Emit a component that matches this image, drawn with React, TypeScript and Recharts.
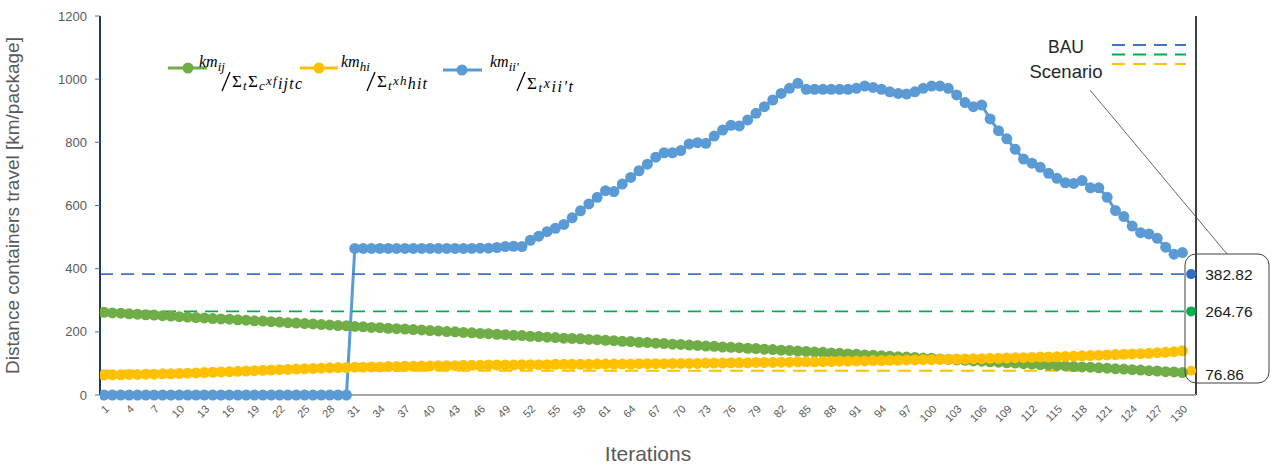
import { ComposedChart, Line, XAxis, YAxis, ReferenceLine, ReferenceDot, Legend } from "recharts";

// iterations 1..130
const iterations = Array.from({ length: 130 }, (_, i) => i + 1);

const xTicks = [1, 4, 7, 10, 13, 16, 19, 22, 25, 28, 31, 34, 37, 40, 43, 46, 49, 52, 55, 58, 61, 64, 67, 70, 73, 76, 79, 82, 85, 88, 91, 94, 97, 100, 103, 106, 109, 112, 115, 118, 121, 124, 127, 130];
const yTicks = [0, 200, 400, 600, 800, 1000, 1200];

// km_ij / sum xf
const greenValues = [
  262, 260, 259, 257, 256, 254, 253, 251, 250, 248,
  247, 245, 244, 242, 241, 240, 238, 237, 235, 234,
  232, 231, 229, 228, 226, 225, 223, 222, 220, 219,
  217, 216, 214, 213, 211, 210, 209, 207, 206, 204,
  203, 201, 200, 198, 197, 195, 194, 192, 191, 189,
  188, 186, 185, 183, 182, 180, 179, 178, 176, 175,
  173, 172, 170, 169, 167, 166, 164, 163, 161, 160,
  158, 157, 155, 154, 152, 151, 150, 148, 147, 145,
  144, 142, 141, 139, 138, 136, 135, 133, 132, 130,
  129, 127, 126, 124, 123, 121, 120, 119, 117, 116,
  114, 113, 111, 110, 108, 107, 105, 104, 102, 101,
  99, 98, 96, 95, 93, 92, 90, 89, 88, 86,
  85, 83, 82, 80, 79, 77, 76, 74, 73, 71,
];

// km_hi / sum xh
const orangeValues = [
  63, 64, 64, 65, 65, 66, 66, 67, 67, 68,
  69, 70, 71, 72, 73, 74, 75, 76, 77, 78,
  79, 80, 81, 82, 83, 84, 85, 86, 87, 87,
  88, 88, 89, 89, 90, 90, 91, 91, 92, 92,
  93, 93, 93, 94, 94, 94, 95, 95, 95, 95,
  96, 96, 96, 96, 97, 97, 97, 97, 97, 98,
  98, 98, 98, 98, 99, 99, 99, 99, 100, 100,
  100, 100, 101, 101, 101, 102, 102, 102, 103, 103,
  103, 104, 104, 105, 105, 105, 106, 106, 107, 107,
  108, 108, 109, 109, 110, 110, 111, 111, 112, 112,
  113, 113, 114, 114, 115, 115, 116, 116, 117, 118,
  118, 119, 120, 120, 121, 122, 123, 124, 125, 126,
  127, 128, 129, 130, 131, 132, 134, 135, 137, 140,
];

// km_ii' / sum x
const blueValues = [
  0, 0, 0, 0, 0, 0, 0, 0, 0, 0,
  0, 0, 0, 0, 0, 0, 0, 0, 0, 0,
  0, 0, 0, 0, 0, 0, 0, 0, 0, 0,
  464, 464, 464, 464, 464, 464, 464, 464, 464, 464,
  464, 464, 464, 464, 464, 465, 465, 467, 470, 471,
  470, 490, 503, 517, 528, 540, 561, 583, 605, 626,
  647, 644, 668, 689, 710, 731, 753, 767, 767, 774,
  795, 799, 797, 820, 839, 854, 852, 871, 892, 913,
  934, 955, 971, 987, 968, 968, 968, 968, 968, 968,
  971, 978, 974, 968, 960, 955, 953, 960, 971, 978,
  978, 971, 950, 926, 913, 918, 874, 837, 811, 778,
  747, 734, 721, 702, 686, 672, 670, 679, 656, 656,
  626, 584, 565, 535, 514, 510, 496, 468, 446, 451,
];

const bauLabels = ["382.82", "264.76", "76.86"];
const bauValues = [382.82, 264.76, 76.86];

const data = iterations.map((it, i) => ({
  it,
  green: greenValues[i],
  orange: orangeValues[i],
  blue: blueValues[i],
}));

const GREEN = "#70AD47";
const ORANGE = "#FFC000";
const BLUE = "#5B9BD5";
const bauColors = ["#4472C4", "#00B050", "#FFC000"];
const bauDotColors = ["#2E6FC4", "#00B050", "#FFC000"];

const sans = "'Liberation Sans', Arial, sans-serif";
const serif = "'Liberation Serif', 'Times New Roman', serif";

const XTick = ({ x, y, payload }: any) => (
  <g transform={`translate(${x + 3},${y + 4}) rotate(-45)`}>
    <text textAnchor="end" dy="0.35em" fontSize={11} fill="#595959" stroke="none" fontFamily={sans}>
      {payload.value}
    </text>
  </g>
);

// one legend entry: km over sum, as a slanted fraction
function Fraction({ x, sub, den, denX, denY, denW }: any) {
  return (
    <g fontFamily={serif} fontStyle="italic" fill="#000">
      <text x={x} y={27} fontSize={16}>
        km
        <tspan fontSize={13} dy={4}>{sub}</tspan>
      </text>
      <line x1={denX - 2} y1={32} x2={denX - 10} y2={51} stroke="#000" strokeWidth={1.3} />
      <text x={denX} y={denY} fontSize={16} textLength={denW} lengthAdjust="spacing">{den}</text>
    </g>
  );
}

const renderLegend = () => (
  <svg width={460} height={60} style={{ display: "block", overflow: "visible" }}>
    <line x1={18} y1={28} x2={57} y2={28} stroke={GREEN} strokeWidth={3} />
    <circle cx={38} cy={28} r={5.5} fill={GREEN} />
    <Fraction
      x={49}
      sub="ij"
      denX={82}
      denY={47}
      denW={70}
      den={<>
        <tspan fontStyle="normal" fontSize={17}>Σ</tspan><tspan fontSize={13} dy={3}>t</tspan>
        <tspan fontStyle="normal" fontSize={17} dy={-3}>Σ</tspan><tspan fontSize={13} dy={3}>c</tspan>
        <tspan fontSize={13} dy={-5}>xf</tspan><tspan fontSize={16} dy={4}>ijtc</tspan>
      </>}
    />
    <line x1={150} y1={28} x2={188} y2={28} stroke={ORANGE} strokeWidth={3} />
    <circle cx={169} cy={28} r={5.5} fill={ORANGE} />
    <Fraction
      x={191}
      sub="hi"
      denX={227}
      denY={47}
      denW={50}
      den={<>
        <tspan fontStyle="normal" fontSize={17}>Σ</tspan><tspan fontSize={13} dy={3}>t</tspan>
        <tspan fontSize={13} dy={-5}>xh</tspan><tspan fontSize={16} dy={4}>hit</tspan>
      </>}
    />
    <line x1={293} y1={30} x2={332} y2={30} stroke={BLUE} strokeWidth={3} />
    <circle cx={312} cy={30} r={5.5} fill={BLUE} />
    <Fraction
      x={340}
      sub="ii'"
      denX={377}
      denY={49}
      denW={46}
      den={<>
        <tspan fontStyle="normal" fontSize={17}>Σ</tspan><tspan fontSize={13} dy={3}>t</tspan>
        <tspan fontSize={14} dy={-4}>x</tspan><tspan fontSize={16} dy={4}>ii't</tspan>
      </>}
    />
  </svg>
);

export default function App() {
  return (
    <div style={{ position: "absolute", left: 0, top: 0, width: 1271, height: 468, background: "#fff" }}>
      <ComposedChart width={1271} height={468} data={data} margin={{ top: 16, right: 75, left: 0, bottom: 0 }}>
        <XAxis
          dataKey="it"
          type="number"
          domain={[0.52, 131.63]}
          allowDataOverflow
          ticks={xTicks}
          interval={0}
          tick={<XTick />}
          tickLine={false}
          axisLine={{ stroke: "#A6A6A6", strokeWidth: 2 }}
          height={73}
          label={{ value: "Iterations", position: "insideBottom", offset: 7, fontSize: 21, fill: "#595959", fontFamily: sans }}
        />
        <YAxis
          domain={[0, 1200]}
          ticks={yTicks}
          interval={0}
          width={100}
          tickSize={5}
          tickMargin={8}
          tickLine={{ stroke: "#4472C4" }}
          axisLine={{ stroke: "#1F3864", strokeWidth: 2 }}
          tick={{ fontSize: 13, fill: "#595959", fontFamily: sans }}
          label={{
            value: "Distance containers travel [km/package]",
            angle: -90,
            position: "insideLeft",
            offset: 12,
            style: { textAnchor: "middle", fontSize: 19, fill: "#595959", fontFamily: sans },
          }}
        />
        <Legend
          layout="horizontal"
          verticalAlign="middle"
          align="center"
          content={renderLegend}
          wrapperStyle={{ position: "absolute", left: 150, top: 40, width: 460, height: 60 }}
        />
        <Line dataKey="green" stroke={GREEN} strokeWidth={3} dot={{ r: 5.5, fill: GREEN, stroke: GREEN, strokeWidth: 0 }} isAnimationActive={false} />
        <Line dataKey="orange" stroke={ORANGE} strokeWidth={3} dot={{ r: 5.5, fill: ORANGE, stroke: ORANGE, strokeWidth: 0 }} isAnimationActive={false} />
        <Line dataKey="blue" stroke={BLUE} strokeWidth={3} dot={{ r: 5.5, fill: BLUE, stroke: BLUE, strokeWidth: 0 }} isAnimationActive={false} />
        {bauValues.map((v, i) => (
          <ReferenceLine key={`l${i}`} y={v} stroke={bauColors[i]} strokeWidth={1.8} strokeDasharray="13 8" />
        ))}
        <ReferenceLine x={131.63} stroke="#000" strokeWidth={1.5} />
        {bauValues.map((v, i) => (
          <ReferenceDot
            key={`d${i}`}
            x={131.05}
            y={v}
            r={5}
            fill={bauDotColors[i]}
            stroke="none"
            label={{ value: bauLabels[i], position: "right", offset: 9, dy: i === 2 ? 4 : 0, fontSize: 15.5, fill: "#1a1a1a", fontFamily: sans }}
          />
        ))}
      </ComposedChart>
      <svg width={1271} height={468} style={{ position: "absolute", left: 0, top: 0, pointerEvents: "none" }}>
        <text x={1066} y={53} textAnchor="middle" fontSize={17.5} fill="#262626" fontFamily={sans}>BAU</text>
        <text x={1066} y={78} textAnchor="middle" fontSize={18.5} fill="#262626" fontFamily={sans}>Scenario</text>
        {bauColors.map((c, i) => (
          <line key={c} x1={1112} x2={1186} y1={45 + i * 9.5} y2={45 + i * 9.5} stroke={c} strokeWidth={1.8} strokeDasharray="13 8" />
        ))}
        <line x1={1090} y1={90} x2={1227} y2={254} stroke="#404040" strokeWidth={0.8} />
        <rect x={1185} y={254} width={84} height={129} rx={11} fill="none" stroke="#404040" strokeWidth={1} />
      </svg>
    </div>
  );
}
